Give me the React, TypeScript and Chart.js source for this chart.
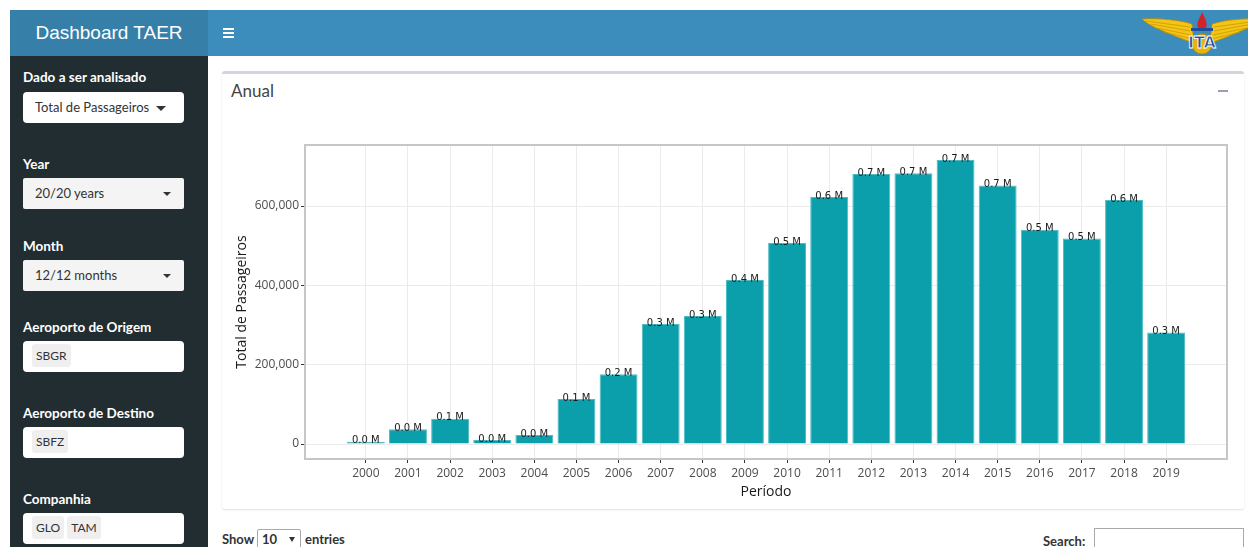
import React, { useEffect, useRef } from "react";
import { Chart, registerables } from "chart.js";

Chart.register(...registerables);

// ---- Data ----
const years = [2000, 2001, 2002, 2003, 2004, 2005, 2006, 2007, 2008, 2009, 2010, 2011, 2012, 2013, 2014, 2015, 2016, 2017, 2018, 2019];
const passengers = [6000, 37000, 64000, 10000, 22700, 113500, 175700, 302600, 322800, 413600, 507000, 623000, 681000, 683000, 716000, 652000, 540000, 518000, 615000, 281000];
const yTicks = [0, 200000, 400000, 600000];
const xRange = [1998.555, 2020.445];
const yRange = [-37800, 754000];

const formatM = (v: number) => (v / 1e6).toFixed(1) + " M";

const BAR = "#0b9fab";

function ChartBox() {
  const ref = useRef<HTMLCanvasElement | null>(null);
  useEffect(() => {
    const canvas = ref.current;
    if (!canvas) return;
    const labelPlugin = {
      id: "barLabels",
      afterDatasetsDraw(chart: any) {
        const { ctx } = chart;
        const meta = chart.getDatasetMeta(0);
        ctx.save();
        ctx.font = '10px "DejaVu Sans"';
        ctx.fillStyle = "#1a1a1a";
        ctx.textAlign = "center";
        ctx.textBaseline = "middle";
        meta.data.forEach((el: any, i: number) => {
          ctx.fillText(formatM(passengers[i]), el.x, el.y - 1);
        });
        ctx.restore();
      },
    };
    const borderPlugin = {
      id: "panelBorder",
      afterDraw(chart: any) {
        const { ctx, chartArea: a } = chart;
        ctx.save();
        ctx.strokeStyle = "#c6c6c6";
        ctx.lineWidth = 2;
        ctx.strokeRect(a.left, a.top, a.right - a.left, a.bottom - a.top);
        ctx.restore();
      },
    };
    const chart = new Chart(canvas, {
      type: "bar",
      data: {
        datasets: [
          {
            data: years.map((yr, i) => ({ x: yr, y: passengers[i] })),
            backgroundColor: BAR,
            borderColor: "#4cbcc4",
            borderWidth: 1,
            barPercentage: 0.9,
            categoryPercentage: 1.0,
          },
        ],
      },
      options: {
        responsive: false,
        animation: false,
        devicePixelRatio: 1,
        layout: { padding: { left: 0, top: 25, right: 17, bottom: 0 } },
        plugins: { legend: { display: false }, tooltip: { enabled: false } },
        scales: {
          x: {
            type: "linear",
            min: xRange[0],
            max: xRange[1],
            offset: false,
            afterBuildTicks: (scale: any) => {
              scale.ticks = years.map((v) => ({ value: v }));
            },
            afterFit: (scale: any) => {
              scale.height = 46;
            },
            grid: { color: "#ebebeb", lineWidth: 1, tickColor: "#333333", tickLength: 4, offset: false },
            border: { display: false },
            ticks: {
              autoSkip: false,
              maxRotation: 0,
              padding: 3,
              color: "#4d4d4d",
              font: { family: '"Open Sans"', size: 12 },
              callback: (v: any) => String(v),
            },
            title: {
              display: true,
              text: "Período",
              color: "#1a1a1a",
              font: { family: '"Open Sans"', size: 14 },
              padding: { top: 4, bottom: 5 },
            },
          },
          y: {
            type: "linear",
            min: yRange[0],
            max: yRange[1],
            afterBuildTicks: (scale: any) => {
              scale.ticks = yTicks.map((v) => ({ value: v }));
            },
            afterFit: (scale: any) => {
              scale.width = 83;
            },
            grid: { color: "#ebebeb", lineWidth: 1, tickColor: "#333333", tickLength: 4 },
            border: { display: false },
            ticks: {
              padding: 2,
              color: "#4d4d4d",
              font: { family: '"Open Sans"', size: 12 },
              callback: (v: any) => Number(v).toLocaleString("en-US"),
            },
            title: {
              display: true,
              text: "Total de Passageiros",
              color: "#1a1a1a",
              font: { family: '"Open Sans"', size: 14 },
              padding: { top: 12, bottom: 4 },
            },
          },
        },
      },
      plugins: [labelPlugin, borderPlugin],
    } as any);
    return () => chart.destroy();
  }, []);
  return (
    <canvas
      ref={ref}
      width={1022}
      height={385}
      style={{ position: "absolute", left: 222, top: 120, width: 1022, height: 385 }}
    />
  );
}

const sideFont = "Lato, 'Open Sans', sans-serif";

function Caret({ x, y, size }: { x: number; y: number; size: number }) {
  return (
    <div
      style={{
        position: "absolute",
        left: x,
        top: y,
        width: 0,
        height: 0,
        borderLeft: `${size}px solid transparent`,
        borderRight: `${size}px solid transparent`,
        borderTop: `${size}px solid #333`,
      }}
    />
  );
}

function Label({ y, text }: { y: number; text: string }) {
  return (
    <div
      style={{
        position: "absolute",
        left: 23,
        top: y - 9,
        height: 18,
        lineHeight: "18px",
        color: "#fff",
        fontWeight: 700,
        fontSize: 13.5,
        fontFamily: sideFont,
        whiteSpace: "nowrap",
      }}
    >
      {text}
    </div>
  );
}

function SelectBox({ y, text, bg, caretSize, caretX, radius }: { y: number; text: string; bg: string; caretSize: number; caretX: number; radius: number }) {
  return (
    <div
      style={{
        position: "absolute",
        left: 23,
        top: y,
        width: 161,
        height: 31,
        background: bg,
        borderRadius: radius,
        boxSizing: "border-box",
      }}
    >
      <div
        style={{
          position: "absolute",
          left: 12,
          top: 0,
          lineHeight: "31px",
          fontSize: 13,
          color: "#333",
          fontFamily: sideFont,
          whiteSpace: "nowrap",
        }}
      >
        {text}
      </div>
      <Caret x={caretX} y={14} size={caretSize} />
    </div>
  );
}

function TagBox({ y, tags }: { y: number; tags: string[] }) {
  return (
    <div
      style={{
        position: "absolute",
        left: 23,
        top: y,
        width: 161,
        height: 31,
        background: "#fff",
        borderRadius: 4,
      }}
    >
      <div style={{ position: "absolute", left: 9, top: 3, display: "flex", gap: 3 }}>
        {tags.map((t) => (
          <div
            key={t}
            style={{
              background: "#efefef",
              borderRadius: 3,
              height: 23,
              lineHeight: "23px",
              padding: "0 4px",
              fontSize: 12,
              color: "#333",
              fontFamily: sideFont,
            }}
          >
            {t}
          </div>
        ))}
      </div>
    </div>
  );
}

function Logo() {
  return (
    <svg width={108} height={46} viewBox="0 0 108 46" style={{ position: "absolute", left: 1140, top: 10 }}>
      <defs>
        <clipPath id="c">
          <rect x="0" y="0" width="108" height="46" />
        </clipPath>
      </defs>
      <g clipPath="url(#c)">
        <path d="M2,9 C20,8 40,10 52,14 L54,33 C44,30 30,24 16,18 C10,15 5,12 2,9 Z" fill="#f4c417" stroke="#b58c00" strokeWidth="0.8" />
        <path d="M6,11 L50,17 M11,14 L50,21 M17,18 L51,25 M24,22 L52,29" stroke="#c99a00" strokeWidth="0.8" />
        <path d="M122,9 C104,8 84,10 72,14 L70,33 C80,30 94,24 108,18 C114,15 119,12 122,9 Z" fill="#f4c417" stroke="#b58c00" strokeWidth="0.8" />
        <path d="M118,11 L74,17 M113,14 L74,21 M107,18 L73,25 M100,22 L72,29" stroke="#c99a00" strokeWidth="0.8" />
        <circle cx="62" cy="34" r="10" fill="#e8b30e" stroke="#b58c00" strokeWidth="0.8" />
        <path d="M58,18 C56,12 60,8 62,2 C64,7 68,11 66,18 Z" fill="#d2232a" />
        <rect x="51" y="18" width="22" height="3" fill="#1f4e9c" />
        <text x="62" y="38" textAnchor="middle" fontFamily="'DejaVu Sans'" fontWeight="700" fontSize="16" fill="#1f4e9c" stroke="#fff" strokeWidth="0.8">ITA</text>
      </g>
    </svg>
  );
}

export default function App() {
  return (
    <div style={{ position: "relative", width: 1248, height: 547, overflow: "hidden", background: "#fff" }}>
      <style>{"body{margin:0;}"}</style>
      {/* header logo area */}
      <div
        style={{
          position: "absolute",
          left: 10,
          top: 10,
          width: 198,
          height: 46,
          background: "#367fa9",
          color: "#fff",
          fontFamily: "'Liberation Sans', Arial, sans-serif",
          fontSize: 19,
          lineHeight: "46px",
          textAlign: "center",
        }}
      >
        Dashboard TAER
      </div>
      {/* navbar */}
      <div style={{ position: "absolute", left: 208, top: 10, width: 1040, height: 46, background: "#3c8dbc" }} />
      {[28, 32, 36].map((y) => (
        <div key={y} style={{ position: "absolute", left: 223, top: y, width: 11, height: 2, background: "#fff" }} />
      ))}
      <Logo />
      {/* sidebar */}
      <div style={{ position: "absolute", left: 10, top: 56, width: 198, height: 491, background: "#222d32" }} />
      <Label y={77} text="Dado a ser analisado" />
      <SelectBox y={92} text="Total de Passageiros" bg="#fff" caretSize={5} caretX={133} radius={4} />
      <Label y={164} text="Year" />
      <SelectBox y={178} text="20/20 years" bg="#f4f4f4" caretSize={4} caretX={140} radius={2} />
      <Label y={246} text="Month" />
      <SelectBox y={260} text="12/12 months" bg="#f4f4f4" caretSize={4} caretX={140} radius={2} />
      <Label y={327} text="Aeroporto de Origem" />
      <TagBox y={341} tags={["SBGR"]} />
      <Label y={413} text="Aeroporto de Destino" />
      <TagBox y={427} tags={["SBFZ"]} />
      <Label y={499} text="Companhia" />
      <TagBox y={513} tags={["GLO", "TAM"]} />
      {/* box */}
      <div
        style={{
          position: "absolute",
          left: 222,
          top: 71,
          width: 1022,
          height: 438,
          background: "#fff",
          borderTop: "3px solid #d2d6de",
          borderRadius: 3,
          boxShadow: "0 1px 2px rgba(0,0,0,0.12)",
          boxSizing: "border-box",
        }}
      />
      <div
        style={{
          position: "absolute",
          left: 231,
          top: 80,
          fontFamily: sideFont,
          fontSize: 17,
          color: "#444",
          lineHeight: "22px",
        }}
      >
        Anual
      </div>
      <div style={{ position: "absolute", left: 1218, top: 90, width: 10, height: 2, background: "#97a0b3" }} />
      <ChartBox />
      {/* table controls */}
      <div
        style={{
          position: "absolute",
          left: 222,
          top: 530,
          fontFamily: sideFont,
          fontSize: 13,
          fontWeight: 700,
          color: "#333",
          lineHeight: "18px",
        }}
      >
        Show
      </div>
      <div
        style={{
          position: "absolute",
          left: 257,
          top: 529,
          width: 44,
          height: 22,
          border: "1px solid #aaa",
          borderRadius: 2,
          boxSizing: "border-box",
          background: "#fff",
        }}
      >
        <div style={{ position: "absolute", left: 4, top: 1, fontSize: 13, fontWeight: 700, fontFamily: sideFont, color: "#333" }}>10</div>
        <div style={{ position: "absolute", left: 31, top: 7, width: 0, height: 0, borderLeft: "3px solid transparent", borderRight: "3px solid transparent", borderTop: "5px solid #333" }} />
      </div>
      <div
        style={{
          position: "absolute",
          left: 305,
          top: 530,
          fontFamily: sideFont,
          fontSize: 13,
          fontWeight: 700,
          color: "#333",
          lineHeight: "18px",
        }}
      >
        entries
      </div>
      <div
        style={{
          position: "absolute",
          left: 1043,
          top: 532,
          fontFamily: sideFont,
          fontSize: 13,
          fontWeight: 700,
          color: "#333",
          lineHeight: "18px",
        }}
      >
        Search:
      </div>
      <div
        style={{
          position: "absolute",
          left: 1094,
          top: 528,
          width: 150,
          height: 24,
          border: "1px solid #aaa",
          boxSizing: "border-box",
          background: "#fff",
        }}
      />
    </div>
  );
}
